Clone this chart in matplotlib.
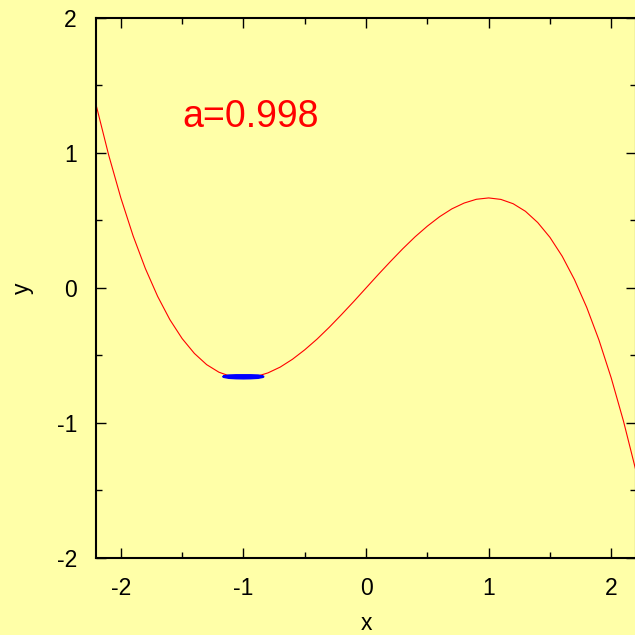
import matplotlib.pyplot as plt

# nullcline
xs = [-2.2, -2.1, -2.0, -1.9, -1.8, -1.7, -1.6, -1.5, -1.4, -1.3, -1.2, -1.1,
      -1.0, -0.9, -0.8, -0.7, -0.6, -0.5, -0.4, -0.3, -0.2, -0.1, 0.0,
      0.1, 0.2, 0.3, 0.4, 0.5, 0.6, 0.7, 0.8, 0.9, 1.0, 1.1, 1.2, 1.3,
      1.4, 1.5, 1.6, 1.7, 1.8, 1.9, 2.0, 2.1, 2.2]
ys = [1.349, 0.987, 0.667, 0.386, 0.144, -0.062, -0.235, -0.375, -0.485, -0.568,
      -0.624, -0.656, -0.667, -0.657, -0.629, -0.586, -0.528, -0.458, -0.379,
      -0.291, -0.197, -0.100, 0.0,
      0.100, 0.197, 0.291, 0.379, 0.458, 0.528, 0.586, 0.629, 0.657, 0.667,
      0.656, 0.624, 0.568, 0.485, 0.375, 0.235, 0.062, -0.144, -0.386, -0.667,
      -0.987, -1.349]

# small limit cycle near x=-1
cx = [-1.16, -1.12, -1.06, -1.0, -0.94, -0.88, -0.84, -0.88, -0.94, -1.0, -1.06, -1.12, -1.16]
cy = [-0.657, -0.650, -0.648, -0.648, -0.648, -0.650, -0.657, -0.664, -0.667, -0.668, -0.667, -0.664, -0.657]

label = 'a=0.998'

plt.rcParams['font.family'] = ['Liberation Sans', 'DejaVu Sans']
plt.rcParams['axes.unicode_minus'] = False
bg = '#ffffa8'

fig = plt.figure(figsize=(6.35, 6.35), dpi=100, facecolor=bg)
ax = fig.add_axes([0.1517, 0.1213, 0.8495, 0.8504], facecolor=bg)

ax.plot(xs, ys, color='red', lw=0.8)
ax.plot(cx, cy, color='blue', lw=2.0, solid_capstyle='round')

ax.text(-1.5, 1.19, label, color='red', fontsize=27)

ax.set_xlim(-2.2, 2.2)
ax.set_ylim(-2, 2)
ax.set_xticks([-2, -1, 0, 1, 2])
ax.set_yticks([-2, -1, 0, 1, 2])
ax.set_xticks([-1.5, -0.5, 0.5, 1.5], minor=True)
ax.set_yticks([-1.5, -0.5, 0.5, 1.5], minor=True)
ax.tick_params(which='both', direction='in', top=True, right=True, labelsize=16.5, pad=14)
ax.tick_params(which='major', length=7, width=1)
ax.tick_params(which='minor', length=4, width=1)
for s in ax.spines.values():
    s.set_linewidth(1.5)

ax.set_xlabel('x', fontsize=16.5, labelpad=8)
ax.set_ylabel('y', fontsize=16.5, labelpad=16)

fig.savefig('out.png', dpi=100, facecolor=bg)
